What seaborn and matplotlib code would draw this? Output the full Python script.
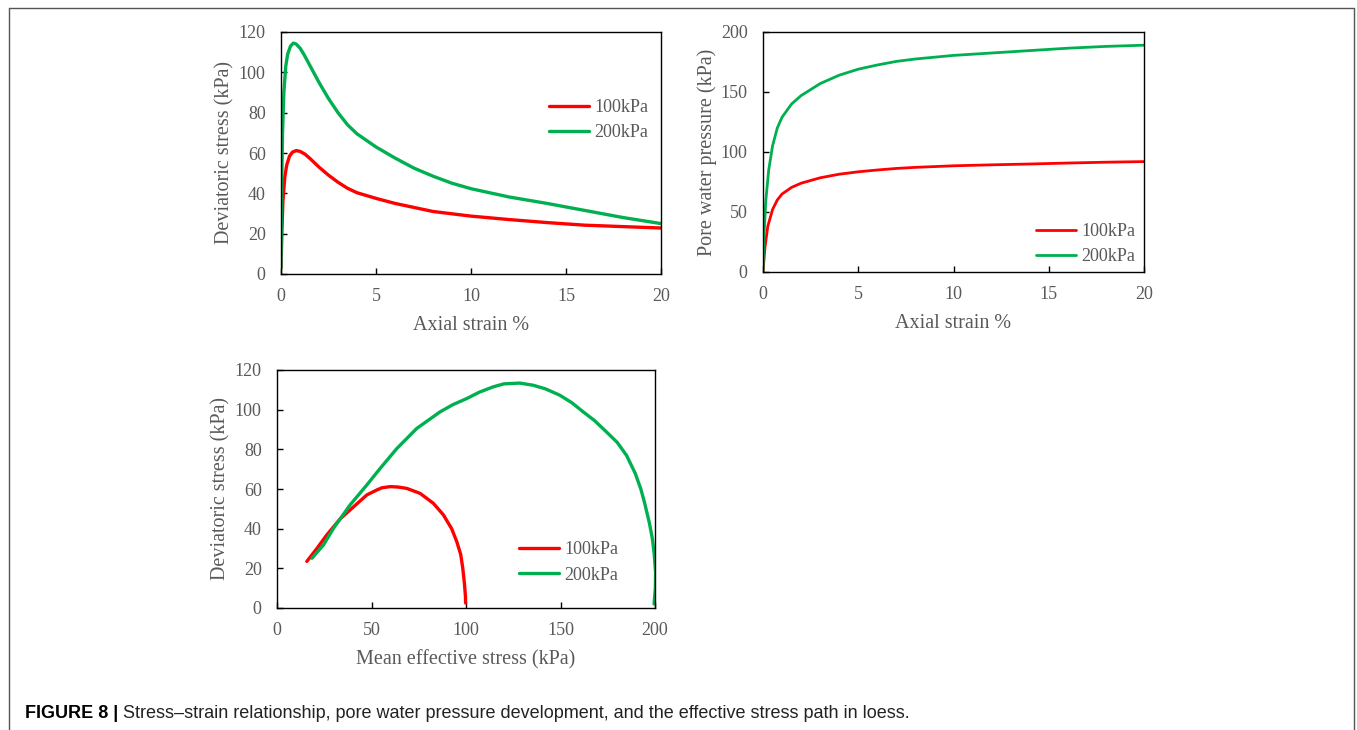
import numpy as np
import pandas as pd
import matplotlib
matplotlib.use("Agg")
import matplotlib.pyplot as plt
from matplotlib import font_manager
from matplotlib.lines import Line2D
import seaborn as sns

# ---- data ----
tests = ["100kPa", "200kPa"]

strain_q_100 = [0, 0.05, 0.1, 0.2, 0.3, 0.45, 0.6, 0.8, 1.0, 1.25, 1.5, 2, 2.5, 3, 3.5, 4, 5, 6, 7, 8, 10, 12, 14, 16, 18, 20]
q_100 = [3, 22, 36, 48, 54, 58.5, 60.4, 61.2, 60.8, 59.5, 57.5, 53, 49, 45.5, 42.5, 40.3, 37.5, 35, 33, 31, 28.7, 27, 25.5, 24.2, 23.5, 22.8]

strain_q_200 = [0, 0.03, 0.08, 0.15, 0.25, 0.35, 0.5, 0.65, 0.8, 1.0, 1.2, 1.6, 2, 2.5, 3, 3.5, 4, 5, 6, 7, 8, 9, 10, 12, 14, 16, 18, 20]
q_200 = [3, 40, 70, 90, 103, 109, 113, 114.5, 114, 112, 109, 102, 95, 87, 80, 74, 69.5, 63, 57.5, 52.5, 48.5, 45, 42.3, 38.2, 35, 31.5, 28, 25]

strain_u_100 = [0, 0.1, 0.25, 0.5, 0.75, 1, 1.5, 2, 3, 4, 5, 6, 7, 8, 10, 12, 14, 16, 18, 20]
u_100 = [0, 20, 38, 52, 60, 65, 70.5, 74, 78.5, 81.5, 83.5, 85, 86.3, 87.2, 88.5, 89.3, 90, 90.8, 91.5, 92]

strain_u_200 = [0, 0.05, 0.15, 0.3, 0.5, 0.75, 1, 1.5, 2, 3, 4, 5, 6, 7, 8, 10, 12, 14, 16, 18, 20]
u_200 = [0, 30, 60, 85, 105, 120, 129, 140, 147, 157, 164, 169, 172.5, 175.5, 177.5, 180.5, 182.5, 184.5, 186.5, 188, 189]

p_100 = [99.8, 99.7, 99.2, 98.3, 97.2, 95.1, 92.4, 88, 82.7, 75.7, 68.7, 64, 59.9, 55.5, 52.8, 47.5, 40.5, 33.5, 26.4, 21.1, 15.8]
pq_100 = [2.5, 6, 12, 20, 27, 33.5, 40, 47, 52.8, 57.8, 60.3, 61, 61.2, 60.6, 59.5, 57, 51, 45, 36.9, 30, 23.5]

p_200 = [199.5, 200.2, 200.3, 199.6, 198.6, 197, 194.5, 192.5, 189.5, 184.9, 180, 174.3, 168, 162, 156, 149.6, 142, 135.6,
         128.5, 120, 114.4, 107, 100.4, 93, 86.3, 73.9, 63.4, 54.6, 47.5, 38.7, 29.9, 24.6, 18.5]
pq_200 = [2, 10, 18, 27, 35, 43, 53, 60, 68, 77, 83.5, 88.8, 94.5, 98.9, 103.5, 107.3, 110.5, 112.3,
          113.4, 113, 111.5, 108.8, 105.6, 102.5, 98.9, 90.5, 80.4, 70.4, 62, 52, 40.2, 31.8, 25.1]

colors = {"100kPa": "#FF0000", "200kPa": "#00B050"}
gray = "#595959"

sns.set_style("ticks")
plt.rcParams["font.family"] = ["Liberation Serif", "DejaVu Serif"]
plt.rcParams["axes.edgecolor"] = "black"
plt.rcParams["axes.linewidth"] = 1.0


def make_df(xs, ys, xname, yname):
    parts = []
    for t, x, y in zip(tests, xs, ys):
        parts.append(pd.DataFrame({xname: x, yname: y, "test": t}))
    return pd.concat(parts, ignore_index=True)


df_q = make_df([strain_q_100, strain_q_200], [q_100, q_200], "strain", "q")
df_u = make_df([strain_u_100, strain_u_200], [u_100, u_200], "strain", "u")
df_p = make_df([p_100, p_200], [pq_100, pq_200], "p", "q")

fig = plt.figure(figsize=(13.57, 7.30), dpi=100)
W, H = 1357, 730


def axes_px(left, top, right, bottom):
    return fig.add_axes([left / W, 1 - bottom / H, (right - left) / W, (bottom - top) / H])


ax1 = axes_px(281, 32, 661, 274)
ax2 = axes_px(763, 32, 1144, 272)
ax3 = axes_px(277, 370, 655, 608)

sns.lineplot(data=df_q, x="strain", y="q", hue="test", palette=colors, sort=False,
             estimator=None, linewidth=2.4, ax=ax1)
sns.lineplot(data=df_u, x="strain", y="u", hue="test", palette=colors, sort=False,
             estimator=None, linewidth=2.0, ax=ax2)
sns.lineplot(data=df_p, x="p", y="q", hue="test", palette=colors, sort=False,
             estimator=None, linewidth=2.4, ax=ax3)

setup = [
    (ax1, (0, 20), (0, 120), np.arange(0, 21, 5), np.arange(0, 121, 20),
     "Axial strain %", "Deviatoric stress (kPa)", (0.705, 0.636)),
    (ax2, (0, 20), (0, 200), np.arange(0, 21, 5), np.arange(0, 201, 50),
     "Axial strain %", "Pore water pressure (kPa)", (0.717, 0.117)),
    (ax3, (0, 200), (0, 120), np.arange(0, 201, 50), np.arange(0, 121, 20),
     "Mean effective stress (kPa)", "Deviatoric stress (kPa)", (0.640, 0.191)),
]

for ax, xl, yl, xt, yt, xlab, ylab, leg_pos in setup:
    ax.set_xlim(*xl)
    ax.set_ylim(*yl)
    ax.set_xticks(xt)
    ax.set_yticks(yt)
    ax.tick_params(direction="in", length=4, width=1, colors="black",
                   labelcolor=gray, labelsize=13)
    ax.tick_params(axis="x", pad=10)
    ax.tick_params(axis="y", pad=11)
    ax.set_xlabel(xlab, fontsize=14.5, color=gray, labelpad=8)
    ax.set_ylabel(ylab, fontsize=14.5, color=gray, labelpad=3)
    for s in ax.spines.values():
        s.set_visible(True)
        s.set_color("black")
    ax.legend(title=None, loc="center left", bbox_to_anchor=leg_pos, frameon=False,
              fontsize=13, labelcolor=gray, handlelength=2.2, handletextpad=0.3,
              labelspacing=0.45, borderpad=0, borderaxespad=0)

# outer frame (open at the bottom)
frame_kw = dict(color="#555555", linewidth=1.0, transform=fig.transFigure)
fig.add_artist(Line2D([9 / W, 9 / W], [0, 1 - 8 / H], **frame_kw))
fig.add_artist(Line2D([9 / W, 1354 / W], [1 - 8 / H, 1 - 8 / H], **frame_kw))
fig.add_artist(Line2D([1354 / W, 1354 / W], [0, 1 - 8 / H], **frame_kw))

# caption
names = {f.name for f in font_manager.fontManager.ttflist}
cap_font = ["Liberation Sans Narrow"] if "Liberation Sans Narrow" in names else ["Liberation Sans"]
cap_size = 14 if cap_font[0] == "Liberation Sans Narrow" else 13
cap_y = 1 - 714 / H
t1 = fig.text(25 / W, cap_y, "FIGURE 8 |", family=cap_font, fontsize=cap_size, fontweight="bold",
              color="black", va="center", ha="left")
fig.canvas.draw()
bb = t1.get_window_extent()
fig.text((bb.x1 + 5) / W, cap_y,
         "Stress\u2013strain relationship, pore water pressure development, and the effective stress path in loess.",
         family=cap_font, fontsize=cap_size, color="#222222", va="center", ha="left")

fig.savefig("out.png", dpi=100)
